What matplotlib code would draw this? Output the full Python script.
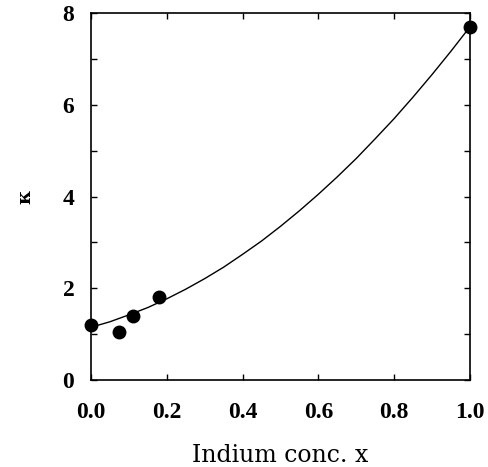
import matplotlib
matplotlib.use("Agg")
import matplotlib.pyplot as plt
from matplotlib.ticker import MultipleLocator

# Measured data points
x_data = [0.0, 0.075, 0.11, 0.18, 1.0]
kappa_data = [1.2, 1.05, 1.40, 1.80, 7.7]

# Fit curve
curve_x = [0.0, 0.05, 0.1, 0.15, 0.2, 0.25, 0.3, 0.35, 0.4, 0.45, 0.5,
           0.55, 0.6, 0.65, 0.7, 0.75, 0.8, 0.85, 0.9, 0.95, 1.0]
curve_y = [1.15, 1.27, 1.42, 1.58, 1.77, 1.98, 2.21, 2.46, 2.74, 3.03, 3.35,
           3.69, 4.05, 4.43, 4.83, 5.26, 5.70, 6.17, 6.66, 7.17, 7.70]

x_ticks = [0.0, 0.2, 0.4, 0.6, 0.8, 1.0]
x_ticklabels = ["0.0", "0.2", "0.4", "0.6", "0.8", "1.0"]
y_ticks = [0, 2, 4, 6, 8]
y_ticklabels = ["0", "2", "4", "6", "8"]

fig = plt.figure(figsize=(4.88, 4.67), dpi=100)
ax = fig.add_axes([0.1865, 0.1863, 0.963 - 0.1865, 0.972 - 0.1863])

ax.plot(curve_x, curve_y, color="black", linewidth=1.0, zorder=2)
ax.plot(x_data, kappa_data, "o", color="black", markersize=9, clip_on=False, zorder=3)

ax.set_xlim(0, 1)
ax.set_ylim(0, 8)
ax.set_xticks(x_ticks)
ax.set_xticklabels(x_ticklabels)
ax.set_yticks(y_ticks)
ax.set_yticklabels(y_ticklabels)
ax.yaxis.set_minor_locator(MultipleLocator(1))

for s in ax.spines.values():
    s.set_linewidth(1.2)

ax.tick_params(axis="both", which="both", direction="in", top=True, right=True,
               length=4, width=1.0)
ax.tick_params(axis="x", which="major", pad=16)
ax.tick_params(axis="y", which="major", pad=12)

for lab in ax.get_xticklabels() + ax.get_yticklabels():
    lab.set_fontfamily("Liberation Serif")
    lab.set_fontweight("bold")
    lab.set_fontsize(17)

ax.set_xlabel("Indium conc. x", fontfamily="DejaVu Serif", fontsize=17, labelpad=15)
ax.set_ylabel("κ", fontfamily="DejaVu Serif", fontsize=14, fontweight="bold", labelpad=20)

fig.savefig("out.png", dpi=100)
